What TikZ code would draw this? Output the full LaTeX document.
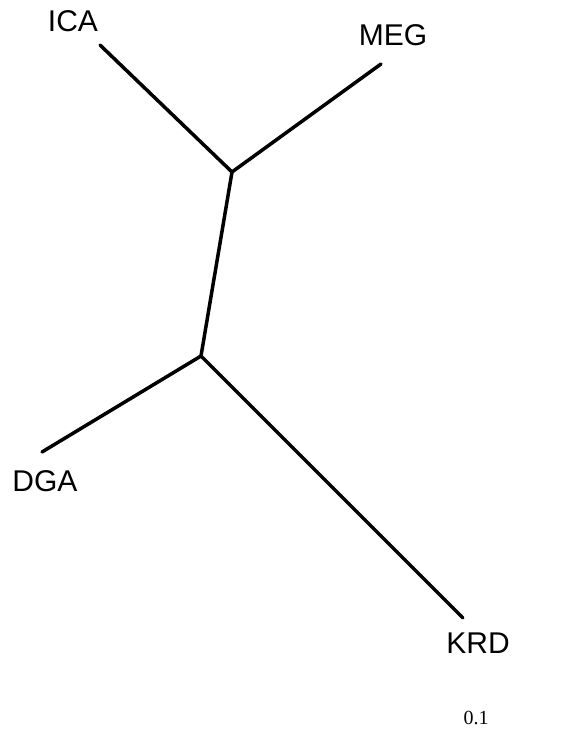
\documentclass[tikz,border=0pt]{standalone}
\usepackage{fontspec}
\setmainfont{Liberation Sans}
\newfontfamily\serifnum{Liberation Serif}
\begin{document}
\begin{tikzpicture}[x=1pt,y=-1pt,
  branch/.style={line width=3.5pt,line cap=round,line join=round,black},
  taxon/.style={font=\fontsize{30}{31}\selectfont,inner sep=0pt,anchor=center}]
\useasboundingbox (0,0) rectangle (582,735);
\coordinate (ica) at (100,45);
\coordinate (meg) at (381,64);
\coordinate (u) at (232,172);
\coordinate (v) at (201,356);
\coordinate (dga) at (42,452);
\coordinate (krd) at (463,618);
\draw[branch] (ica) -- (u);
\draw[branch] (meg) -- (u);
\draw[branch] (u) -- (v);
\draw[branch] (v) -- (dga);
\draw[branch] (v) -- (krd);
\node[taxon] (lica) at (73,21) {ICA};
\node[taxon] (lmeg) at (393,35) {MEG};
\node[taxon] (ldga) at (45,481) {DGA};
\node[taxon] (lkrd) at (478,643) {KRD};
\node[font=\serifnum\fontsize{20}{22}\selectfont,inner sep=0pt] (scale) at (476,718) {0.1};
\end{tikzpicture}
\end{document}
